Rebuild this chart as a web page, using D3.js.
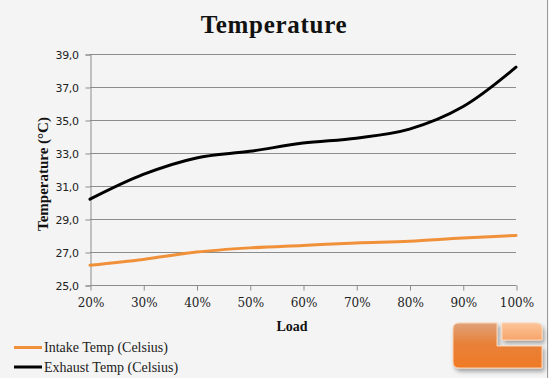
<!DOCTYPE html>
<html><head><meta charset="utf-8">
<script src="https://cdn.jsdelivr.net/npm/d3@7/dist/d3.min.js"></script>
<style>
html,body{margin:0;padding:0;background:#f4f4f4;}
svg{display:block;}
</style></head>
<body>
<script>
const categories = ["20%","30%","40%","50%","60%","70%","80%","90%","100%"];
const intake = [26.2,26.55,27.0,27.25,27.4,27.55,27.65,27.85,28.0];
const exhaust = [30.2,31.7,32.7,33.1,33.6,33.9,34.45,35.8,38.2];
const yTicks = [25,27,29,31,33,35,37,39];
const seriesNames = ["Intake Temp (Celsius)","Exhaust Temp (Celsius)"];
const seriesColors = ["#f0913a","#000000"];

const W = 549, H = 378;
const svg = d3.select("body").append("svg").attr("width", W).attr("height", H);
svg.append("rect").attr("width", W).attr("height", H).attr("fill", "#f4f4f4");
svg.append("line").attr("x1", W-1.5).attr("x2", W-1.5).attr("y1", 0).attr("y2", H).attr("stroke", "#9a9a9a").attr("stroke-width", 1);

const x = d3.scalePoint().domain(categories).range([90, 516]);
const y = d3.scaleLinear().domain([25, 39]).range([285, 54]);

// gridlines
svg.append("g").selectAll("line").data(yTicks.slice(1)).join("line")
  .attr("x1", 90).attr("x2", 516)
  .attr("y1", d => Math.round(y(d)) + 0.5).attr("y2", d => Math.round(y(d)) + 0.5)
  .attr("stroke", "#8c8c8c").attr("stroke-width", 1);

// y axis
const yAxis = d3.axisLeft(y).tickValues(yTicks).tickSize(5).tickPadding(7)
  .tickFormat(d => d3.format(".1f")(d).replace(".", ","));
const gy = svg.append("g").attr("transform", "translate(90.5,0.5)").call(yAxis);
gy.selectAll("path,line").attr("stroke", "#8c8c8c");
gy.selectAll("text").attr("font-family", "DejaVu Sans").attr("font-size", 11)
  .attr("letter-spacing", "-0.4").attr("fill", "#222").attr("dy", "0.4em");

// x axis
const xAxis = d3.axisBottom(x).tickSize(5).tickPadding(8);
const gx = svg.append("g").attr("transform", "translate(0.5,285.5)").call(xAxis);
gx.select("path").attr("stroke", "#8c8c8c").attr("d", "M90,0H516");
gx.selectAll("line").attr("stroke", "#8c8c8c");
gx.selectAll("text").attr("font-family", "DejaVu Serif").attr("font-size", 12).attr("fill", "#222");

// lines
const line = d3.line().x((d, i) => x(categories[i])).y(d => y(d)).curve(d3.curveCatmullRom.alpha(0.5));
[intake, exhaust].forEach((s, k) => {
  svg.append("path").datum(s).attr("d", line).attr("fill", "none")
    .attr("stroke", seriesColors[k]).attr("stroke-width", 3).attr("stroke-linecap", "round");
});

// title
svg.append("text").attr("x", 274).attr("y", 33).attr("text-anchor", "middle")
  .attr("font-family", "Liberation Serif").attr("font-weight", "bold").attr("font-size", 25)
  .attr("letter-spacing", "0.7").attr("fill", "#111").text("Temperature");

// axis titles
svg.append("text").attr("x", 292).attr("y", 331).attr("text-anchor", "middle")
  .attr("font-family", "Liberation Serif").attr("font-weight", "bold").attr("font-size", 14)
  .attr("fill", "#111").text("Load");
svg.append("text").attr("transform", "translate(48,174) rotate(-90)").attr("text-anchor", "middle")
  .attr("font-family", "Liberation Serif").attr("font-weight", "bold").attr("font-size", 15)
  .attr("fill", "#111").text("Temperature (°C)");

// legend
const lg = svg.append("g");
seriesNames.forEach((n, k) => {
  const yy = 347.5 + k * 19.5;
  lg.append("line").attr("x1", 14).attr("x2", 42).attr("y1", yy).attr("y2", yy)
    .attr("stroke", seriesColors[k]).attr("stroke-width", 3);
  lg.append("text").attr("x", 44).attr("y", yy + 4.5)
    .attr("font-family", "Liberation Serif").attr("font-size", 14).attr("fill", "#222").text(n);
});

// logo
const defs = svg.append("defs");
const g1 = defs.append("linearGradient").attr("id", "lg1").attr("x1", 0).attr("y1", 0).attr("x2", 0).attr("y2", 1);
g1.append("stop").attr("offset", "0").attr("stop-color", "#e0a27a");
g1.append("stop").attr("offset", "0.45").attr("stop-color", "#e8813a");
g1.append("stop").attr("offset", "1").attr("stop-color", "#f07a25");
const g2 = defs.append("linearGradient").attr("id", "lg2").attr("x1", 0).attr("y1", 0).attr("x2", 0).attr("y2", 1);
g2.append("stop").attr("offset", "0").attr("stop-color", "#fcc49a");
g2.append("stop").attr("offset", "1").attr("stop-color", "#f7a56a");
const f = defs.append("filter").attr("id", "sh").attr("x", "-20%").attr("y", "-20%").attr("width", "150%").attr("height", "150%");
f.append("feDropShadow").attr("dx", 2).attr("dy", 3).attr("stdDeviation", 2).attr("flood-color", "#000").attr("flood-opacity", 0.35);
const logo = svg.append("g").attr("filter", "url(#sh)");
logo.append("path").attr("d", "M459,323 H497 V346 H542 V368 H459 Q453,368 453,362 V329 Q453,323 459,323 Z")
  .attr("fill", "url(#lg1)").attr("stroke", "#fbd2b0").attr("stroke-width", 1);
logo.append("path").attr("d", "M502,323 H536 Q542,323 542,329 V340 H502 Z")
  .attr("fill", "url(#lg2)").attr("stroke", "#fbd2b0").attr("stroke-width", 1);
</script>
</body></html>
